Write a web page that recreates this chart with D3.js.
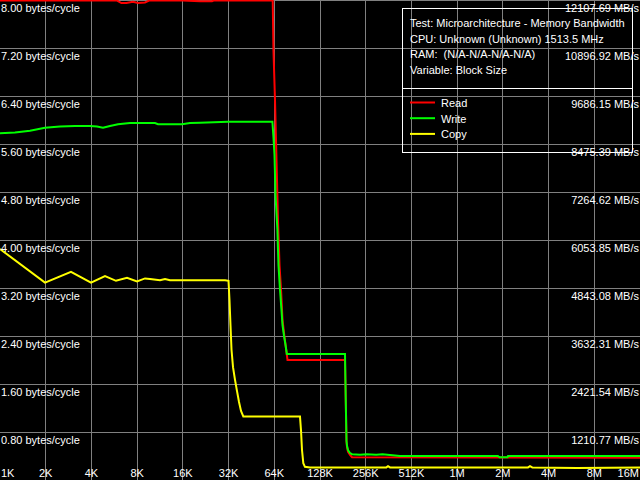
<!DOCTYPE html>
<html>
<head>
<meta charset="utf-8">
<script src="https://cdn.jsdelivr.net/npm/d3@7"></script>
<style>
  html, body { margin: 0; padding: 0; background: #000; }
  svg { display: block; }
  text { font-family: "Liberation Sans", Arial, sans-serif; font-size: 11px; fill: #fff; white-space: pre; }
</style>
</head>
<body>
<svg id="chart" width="640" height="480"></svg>
<script>
// ---- data ----
const xTickSizes = [1, 2, 4, 8, 16, 32, 64, 128, 256, 512, 1024, 2048, 4096, 8192, 16384]; // KB
const xTickLabels = ["1K", "2K", "4K", "8K", "16K", "32K", "64K", "128K", "256K", "512K", "1M", "2M", "4M", "8M", "16M"];
const leftTickValues = [8.0, 7.2, 6.4, 5.6, 4.8, 4.0, 3.2, 2.4, 1.6, 0.8];
const rightTickLabels = ["12107.69 MB/s", "10896.92 MB/s", "9686.15 MB/s", "8475.39 MB/s", "7264.62 MB/s",
  "6053.85 MB/s", "4843.08 MB/s", "3632.31 MB/s", "2421.54 MB/s", "1210.77 MB/s"];
const infoLines = ["Test: Microarchitecture - Memory Bandwidth", "CPU: Unknown (Unknown) 1513.5 MHz",
  "RAM:  (N/A-N/A-N/A-N/A)", "Variable: Block Size"];
const seriesNames = ["Read", "Write", "Copy"];
const seriesColors = ["#ff0000", "#00ff00", "#ffff00"];

const readSizes = [1, 4, 5.9, 6.3, 6.8, 7.5, 8.1, 9.0, 9.6, 16, 20.8, 24.9, 25.5, 62.5, 63.2, 64.7, 66.2, 67.7,
  69.3, 70.9, 72.5, 74.7, 76.4, 78.2, 187, 189, 191.3, 192.8, 195.7, 201.7, 207.9, 16384];
const readValues = [7.99, 7.99, 7.99, 7.95, 7.95, 7.97, 7.95, 7.96, 7.99, 7.99, 7.98, 7.98, 7.99, 7.99, 7.17,
  6.33, 5.33, 4.33, 3.58, 3.17, 2.67, 2.38, 2.20, 2.00, 2.00, 1.37, 0.65, 0.55, 0.47, 0.42, 0.38, 0.37];

const writeSizes = [1, 1.255, 1.576, 1.978, 2.484, 3.118, 3.914, 4.352, 4.767, 5.301, 5.985, 7.178, 10.49, 10.98,
  15.79, 17.83, 20.75, 31.72, 62.2, 63.24, 64.2, 65.2, 67.1, 68.2, 69.8, 71.4, 72.5, 74.2, 75.9, 77.4, 187, 189,
  191.3, 192.8, 195.7, 201.7, 207.9, 235, 260, 300, 330, 430, 1900, 1950, 2200, 2215, 16384];
const writeValues = [5.78, 5.79, 5.82, 5.87, 5.89, 5.90, 5.90, 5.89, 5.87, 5.90, 5.93, 5.95, 5.95, 5.93, 5.93,
  5.95, 5.955, 5.97, 5.97, 5.70, 5.42, 4.75, 4.17, 3.58, 3.17, 2.83, 2.58, 2.40, 2.25, 2.10, 2.10, 1.37, 0.65,
  0.57, 0.50, 0.45, 0.43, 0.42, 0.43, 0.42, 0.43, 0.40, 0.40, 0.38, 0.38, 0.40, 0.40];

const copySizes = [1, 1.978, 2.934, 3.974, 4.914, 5.806, 6.86, 7.983, 9.012, 9.722, 11.31, 12.21, 13.17, 20.75,
  30.31, 31.97, 32.45, 32.95, 33.46, 34.23, 35.28, 36.37, 37.49, 38.64, 40.01, 94.5, 95.96, 97.43, 99.37, 101.9,
  110, 350, 359, 370, 3000, 3091, 3200, 6300, 16384];
const copyValues = [3.85, 3.29, 3.47, 3.29, 3.40, 3.32, 3.37, 3.31, 3.36, 3.35, 3.33, 3.35, 3.33, 3.33, 3.33,
  3.32, 3.00, 2.58, 2.17, 1.88, 1.67, 1.48, 1.30, 1.15, 1.06, 1.06, 0.83, 0.50, 0.28, 0.22, 0.21, 0.21, 0.23,
  0.21, 0.21, 0.23, 0.21, 0.20, 0.21];

// ---- chart ----
const W = 640, H = 480;
const svg = d3.select("#chart");
svg.append("rect").attr("width", W).attr("height", H).attr("fill", "#000");

const x = d3.scaleLog().base(2).domain([1, 16384]).range([0, W]);
const y = d3.scaleLinear().domain([0, 8]).range([H, 0]);

// grid
const grid = svg.append("g").attr("stroke", "#808080").attr("stroke-width", 1);
grid.selectAll("line.v").data(xTickSizes.slice(1, -1)).join("line")
  .attr("class", "v")
  .attr("x1", d => Math.floor(x(d)) + 0.5).attr("x2", d => Math.floor(x(d)) + 0.5)
  .attr("y1", 0).attr("y2", H);
grid.selectAll("line.h").data(leftTickValues).join("line")
  .attr("class", "h")
  .attr("y1", d => Math.round(y(d)) + 0.5).attr("y2", d => Math.round(y(d)) + 0.5)
  .attr("x1", 0).attr("x2", W);

// series
svg.append("clipPath").attr("id", "clip").append("rect").attr("width", W).attr("height", H);
const line = d3.line().x(d => x(d[0])).y(d => y(d[1]));
const series = [
  d3.zip(readSizes, readValues),
  d3.zip(writeSizes, writeValues),
  d3.zip(copySizes, copyValues)
];
svg.append("g").attr("clip-path", "url(#clip)")
  .selectAll("path").data(series).join("path")
  .attr("d", line)
  .attr("fill", "none")
  .attr("stroke", (d, i) => seriesColors[i])
  .attr("stroke-width", 2)
  .attr("stroke-linejoin", "miter");

// legend box
const lg = svg.append("g");
lg.append("rect").attr("x", 402.5).attr("y", 8.5).attr("width", 230).attr("height", 144)
  .attr("fill", "none").attr("stroke", "#fff").attr("stroke-width", 1);
lg.append("line").attr("x1", 402.5).attr("x2", 632.5).attr("y1", 88.5).attr("y2", 88.5)
  .attr("stroke", "#fff").attr("stroke-width", 1);
lg.selectAll("text.info").data(infoLines).join("text")
  .attr("class", "info")
  .attr("x", 410).attr("y", (d, i) => 27 + i * 15.5)
  .text(d => d);
const items = lg.selectAll("g.item").data(seriesNames).join("g").attr("class", "item")
  .attr("transform", (d, i) => `translate(0, ${102.5 + i * 15.7})`);
items.append("line").attr("x1", 410).attr("x2", 435).attr("y1", 0).attr("y2", 0)
  .attr("stroke", (d, i) => seriesColors[i]).attr("stroke-width", 2);
items.append("text").attr("x", 441).attr("y", 4.5).text(d => d);

// axis labels
svg.append("g").selectAll("text").data(leftTickValues).join("text")
  .attr("x", 1).attr("y", d => Math.round(y(d)) + 12)
  .text(d => d.toFixed(2) + " bytes/cycle");
svg.append("g").selectAll("text").data(leftTickValues).join("text")
  .attr("x", 639).attr("y", d => Math.round(y(d)) + 12)
  .attr("text-anchor", "end")
  .text((d, i) => rightTickLabels[i]);
svg.append("g").selectAll("text").data(xTickSizes).join("text")
  .attr("x", (d, i) => i === 0 ? 1 : (i === xTickSizes.length - 1 ? 639 : x(d)))
  .attr("y", 477)
  .attr("text-anchor", (d, i) => i === 0 ? "start" : (i === xTickSizes.length - 1 ? "end" : "middle"))
  .text((d, i) => xTickLabels[i]);
</script>
</body>
</html>
